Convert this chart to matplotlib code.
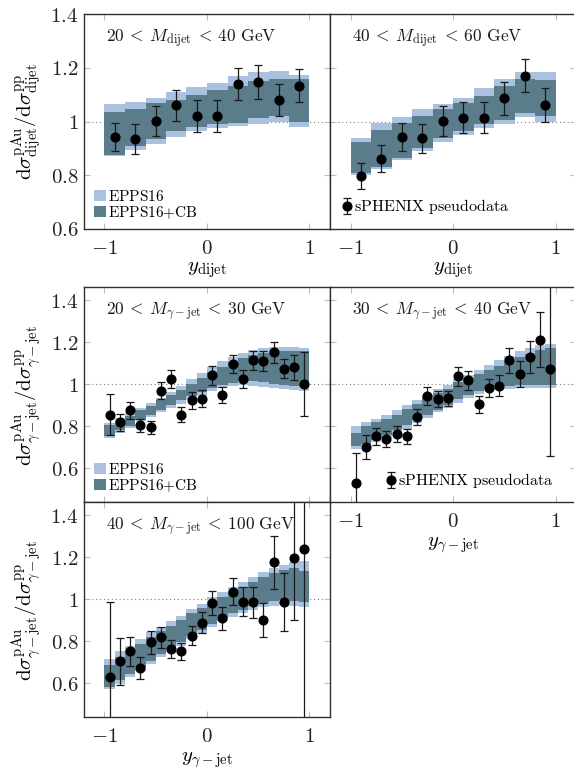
import numpy as np
import matplotlib
matplotlib.use("Agg")
import matplotlib.pyplot as plt
from matplotlib.patches import Patch

plt.rcParams["mathtext.fontset"] = "cm"
plt.rcParams["font.family"] = ["DejaVu Serif"]

# ---------------- dijet, 20 < M < 40 GeV ----------------
dj1_ratio = [0.943, 0.935, 1.001, 1.060, 1.021, 1.021, 1.139, 1.147, 1.080, 1.133]
dj1_err = [0.053, 0.055, 0.056, 0.058, 0.060, 0.060, 0.060, 0.062, 0.061, 0.062]
dj1_epps_hi = [1.065, 1.073, 1.089, 1.108, 1.127, 1.145, 1.170, 1.185, 1.189, 1.174]
dj1_epps_lo = [0.873, 0.894, 0.918, 0.944, 0.963, 0.975, 0.984, 0.992, 1.000, 0.981]
dj1_cb_hi = [1.034, 1.046, 1.067, 1.081, 1.099, 1.117, 1.133, 1.152, 1.160, 1.158]
dj1_cb_lo = [0.875, 0.907, 0.934, 0.965, 0.980, 0.990, 0.996, 1.012, 1.021, 0.999]

# ---------------- dijet, 40 < M < 60 GeV ----------------
dj2_ratio = [0.797, 0.862, 0.943, 0.938, 1.001, 1.014, 1.014, 1.086, 1.170, 1.062]
dj2_err = [0.050, 0.051, 0.053, 0.054, 0.056, 0.057, 0.058, 0.061, 0.061, 0.064]
dj2_epps_hi = [0.937, 0.996, 1.015, 1.048, 1.065, 1.087, 1.124, 1.158, 1.183, 1.185]
dj2_epps_lo = [0.800, 0.825, 0.856, 0.891, 0.925, 0.950, 0.974, 0.990, 1.017, 1.000]
dj2_cb_hi = [0.925, 0.969, 0.996, 1.021, 1.046, 1.068, 1.096, 1.133, 1.160, 1.155]
dj2_cb_lo = [0.807, 0.832, 0.866, 0.903, 0.940, 0.963, 0.990, 1.006, 1.030, 1.021]

# ---------------- gamma-jet, 20 < M < 30 GeV ----------------
gj1_ratio = [0.856, 0.819, 0.876, 0.805, 0.795, 0.970, 1.025, 0.856, 0.924, 0.932,
             1.043, 0.948, 1.097, 1.027, 1.114, 1.111, 1.154, 1.075, 1.081, 1.002]
gj1_err = [0.098, 0.041, 0.039, 0.032, 0.032, 0.040, 0.042, 0.035, 0.039, 0.040,
           0.044, 0.038, 0.042, 0.042, 0.046, 0.049, 0.050, 0.045, 0.060, 0.153]
gj1_epps_hi = [0.816, 0.840, 0.863, 0.887, 0.911, 0.935, 0.962, 0.994, 1.025, 1.054,
               1.083, 1.110, 1.130, 1.149, 1.162, 1.173, 1.178, 1.178, 1.176, 1.173]
gj1_epps_lo = [0.744, 0.768, 0.792, 0.824, 0.844, 0.867, 0.887, 0.908, 0.927, 0.946,
               0.967, 0.983, 0.994, 0.998, 0.994, 0.987, 0.983, 0.978, 0.975, 0.971]
gj1_cb_hi = [0.805, 0.824, 0.851, 0.876, 0.898, 0.924, 0.951, 0.975, 1.003, 1.030,
             1.057, 1.083, 1.105, 1.125, 1.141, 1.152, 1.157, 1.160, 1.157, 1.157]
gj1_cb_lo = [0.756, 0.781, 0.803, 0.832, 0.856, 0.879, 0.903, 0.927, 0.943, 0.962,
             0.983, 0.998, 1.006, 1.014, 1.014, 1.010, 1.003, 0.998, 0.994, 0.990]

# ---------------- gamma-jet, 30 < M < 40 GeV ----------------
gj2_ratio = [0.530, 0.702, 0.752, 0.740, 0.765, 0.752, 0.844, 0.946, 0.932, 0.933,
             1.038, 1.019, 0.906, 0.983, 0.994, 1.114, 1.049, 1.130, 1.213, 1.073]
gj2_err = [0.143, 0.057, 0.041, 0.036, 0.037, 0.035, 0.039, 0.042, 0.039, 0.038,
           0.045, 0.046, 0.040, 0.044, 0.050, 0.061, 0.062, 0.076, 0.132, 0.416]
gj2_epps_hi = [0.800, 0.819, 0.835, 0.856, 0.879, 0.903, 0.927, 0.951, 0.978, 0.998,
               1.025, 1.046, 1.067, 1.094, 1.117, 1.137, 1.157, 1.173, 1.189, 1.194]
gj2_epps_lo = [0.692, 0.705, 0.724, 0.744, 0.765, 0.787, 0.816, 0.840, 0.867, 0.887,
               0.911, 0.935, 0.954, 0.967, 0.975, 0.978, 0.983, 0.983, 0.983, 0.983]
gj2_cb_hi = [0.768, 0.800, 0.819, 0.835, 0.856, 0.883, 0.908, 0.933, 0.959, 0.978,
             1.010, 1.030, 1.051, 1.070, 1.089, 1.110, 1.130, 1.146, 1.165, 1.173]
gj2_cb_lo = [0.705, 0.717, 0.737, 0.760, 0.784, 0.805, 0.832, 0.856, 0.879, 0.903,
             0.930, 0.951, 0.967, 0.983, 0.990, 0.994, 0.998, 0.998, 0.998, 0.998]

# ---------------- gamma-jet, 40 < M < 100 GeV ----------------
gj3_ratio = [0.629, 0.705, 0.752, 0.673, 0.795, 0.819, 0.763, 0.752, 0.827, 0.890,
             0.983, 0.910, 1.037, 0.990, 0.986, 0.902, 1.176, 0.989, 1.197, 1.240]
gj3_err = [0.360, 0.111, 0.069, 0.052, 0.054, 0.050, 0.044, 0.041, 0.046, 0.049,
           0.057, 0.054, 0.065, 0.071, 0.073, 0.080, 0.127, 0.138, 0.294, 0.900]
gj3_epps_hi = [0.716, 0.752, 0.779, 0.811, 0.843, 0.867, 0.895, 0.922, 0.954, 0.978,
               1.010, 1.033, 1.057, 1.081, 1.105, 1.129, 1.149, 1.165, 1.176, 1.181]
gj3_epps_lo = [0.573, 0.597, 0.629, 0.660, 0.692, 0.724, 0.748, 0.779, 0.811, 0.835,
               0.867, 0.895, 0.914, 0.933, 0.949, 0.962, 0.970, 0.975, 0.970, 0.962]
gj3_cb_hi = [0.689, 0.727, 0.759, 0.787, 0.819, 0.848, 0.875, 0.902, 0.933, 0.959,
             0.990, 1.013, 1.038, 1.060, 1.081, 1.105, 1.124, 1.140, 1.149, 1.137]
gj3_cb_lo = [0.584, 0.616, 0.644, 0.676, 0.708, 0.740, 0.763, 0.795, 0.827, 0.854,
             0.883, 0.911, 0.933, 0.949, 0.970, 0.981, 0.994, 0.997, 0.994, 0.986]

x_ticks = [-1, 0, 1]
x_ticklabels = [r"$-1$", r"$0$", r"$1$"]
y_ticks = [0.6, 0.8, 1.0, 1.2, 1.4]
y_ticklabels = [r"$0.6$", r"$0.8$", r"$1$", r"$1.2$", r"$1.4$"]

panel_titles = [
    r"$20 \:<\: M_{\mathrm{dijet}} \:<\: 40\ \mathrm{GeV}$",
    r"$40 \:<\: M_{\mathrm{dijet}} \:<\: 60\ \mathrm{GeV}$",
    r"$20 \:<\: M_{\gamma-\mathrm{jet}} \:<\: 30\ \mathrm{GeV}$",
    r"$30 \:<\: M_{\gamma-\mathrm{jet}} \:<\: 40\ \mathrm{GeV}$",
    r"$40 \:<\: M_{\gamma-\mathrm{jet}} \:<\: 100\ \mathrm{GeV}$",
]
label_epps = r"$\mathrm{EPPS16}$"
label_cb = r"$\mathrm{EPPS16{+}CB}$"
label_data = r"$\mathrm{sPHENIX\ pseudodata}$"

C_EPPS = "#aac2df"
C_CB = "#5b7c8a"
SPINE = "#303030"
TICK = "#bdbdbd"

W, H = 574, 771
fig = plt.figure(figsize=(W / 100, H / 100), dpi=100)


def px_axes(left, top, w=246, h=215):
    return fig.add_axes([left / W, 1 - (top + h) / H, w / W, h / H])


def px_text(x, y, s, **kw):
    fig.text(x / W, 1 - y / H, s, **kw)


def draw_panel(ax, ratio, err, e_lo, e_hi, c_lo, c_hi, ylim, title,
               show_xlabels=True, show_ylabels=True):
    n = len(ratio)
    edges = np.linspace(-1, 1, n + 1)
    centers = 0.5 * (edges[:-1] + edges[1:])
    ax.axhline(1.0, color="#808080", lw=0.8, ls=(0, (1, 2.5)), zorder=1)
    ax.fill_between(edges, np.r_[e_lo, e_lo[-1]], np.r_[e_hi, e_hi[-1]],
                    step="post", color=C_EPPS, lw=0, zorder=2)
    ax.fill_between(edges, np.r_[c_lo, c_lo[-1]], np.r_[c_hi, c_hi[-1]],
                    step="post", color=C_CB, lw=0, zorder=3)
    cont = ax.errorbar(centers, ratio, yerr=err, fmt="o", color="black", ms=6.3,
                       ecolor="#1a1a1a", elinewidth=0.9, capsize=3.2,
                       capthick=0.9, zorder=5, label=label_data)
    ax.set_xlim(-1.2, 1.2)
    ax.set_ylim(*ylim)
    ax.set_xticks(x_ticks)
    ax.set_yticks(y_ticks)
    ax.set_xticklabels(x_ticklabels if show_xlabels else [])
    ax.set_yticklabels(y_ticklabels if show_ylabels else [])
    ax.tick_params(direction="in", top=True, right=True, length=4.5,
                   width=0.8, color=TICK, labelsize=15, labelcolor="#222222")
    ax.tick_params(axis="x", pad=7)
    ax.tick_params(axis="y", pad=4)
    for sp in ax.spines.values():
        sp.set_color(SPINE)
        sp.set_linewidth(1.0)
        sp.set_zorder(6)
    ax.text(0.09, 0.885, title, transform=ax.transAxes, fontsize=12.5,
            ha="left", va="center", color="#1a1a1a")
    return cont


band_handles = [Patch(facecolor=C_EPPS, edgecolor="none", label=label_epps),
                Patch(facecolor=C_CB, edgecolor="none", label=label_cb)]

top_lim = (0.6, 1.4)
low_lim = (0.44, 1.464)

ax1 = px_axes(84, 14)
draw_panel(ax1, dj1_ratio, dj1_err, dj1_epps_lo, dj1_epps_hi, dj1_cb_lo,
           dj1_cb_hi, top_lim, panel_titles[0])
ax2 = px_axes(330, 14)
e2 = draw_panel(ax2, dj2_ratio, dj2_err, dj2_epps_lo, dj2_epps_hi, dj2_cb_lo,
                dj2_cb_hi, top_lim, panel_titles[1], show_ylabels=False)
ax3 = px_axes(84, 287)
draw_panel(ax3, gj1_ratio, gj1_err, gj1_epps_lo, gj1_epps_hi, gj1_cb_lo,
           gj1_cb_hi, low_lim, panel_titles[2], show_xlabels=False)
ax4 = px_axes(330, 287)
e4 = draw_panel(ax4, gj2_ratio, gj2_err, gj2_epps_lo, gj2_epps_hi, gj2_cb_lo,
                gj2_cb_hi, low_lim, panel_titles[3], show_ylabels=False)
ax5 = px_axes(84, 502)
draw_panel(ax5, gj3_ratio, gj3_err, gj3_epps_lo, gj3_epps_hi, gj3_cb_lo,
           gj3_cb_hi, low_lim, panel_titles[4])

for ax in (ax1, ax3):
    ax.legend(handles=band_handles, loc="lower left", bbox_to_anchor=(0.03, 0.025),
              frameon=False, fontsize=11, handlelength=0.75, handleheight=0.75,
              handletextpad=0.15, labelspacing=0.0, borderpad=0.2,
              borderaxespad=0)
for ax, cont, anchor in ((ax2, e2, (0.04, 0.045)), (ax4, e4, (0.22, 0.04))):
    ax.legend(handles=[cont], loc="lower left", bbox_to_anchor=anchor,
              frameon=False, fontsize=11.5, handlelength=0.5,
              handletextpad=0.2, borderpad=0.2, borderaxespad=0)

ylab_dijet = (r"$\mathrm{d}\sigma^{\mathrm{pAu}}_{\mathrm{dijet}}/"
              r"\mathrm{d}\sigma^{\mathrm{pp}}_{\mathrm{dijet}}$")
ylab_gj = (r"$\mathrm{d}\sigma^{\mathrm{pAu}}_{\gamma-\mathrm{jet}}/"
           r"\mathrm{d}\sigma^{\mathrm{pp}}_{\gamma-\mathrm{jet}}$")
xlab_dijet = r"$y_{\mathrm{dijet}}$"
xlab_gj = r"$y_{\gamma-\mathrm{jet}}$"

px_text(27, 121, ylab_dijet, rotation=90, ha="center", va="center", fontsize=15)
px_text(27, 395, ylab_gj, rotation=90, ha="center", va="center", fontsize=15)
px_text(27, 610, ylab_gj, rotation=90, ha="center", va="center", fontsize=15)
px_text(207, 270, xlab_dijet, ha="center", va="center", fontsize=15)
px_text(453, 270, xlab_dijet, ha="center", va="center", fontsize=15)
px_text(453, 545, xlab_gj, ha="center", va="center", fontsize=15)
px_text(207, 760, xlab_gj, ha="center", va="center", fontsize=15)

fig.savefig("out.png", dpi=100, facecolor="white")
